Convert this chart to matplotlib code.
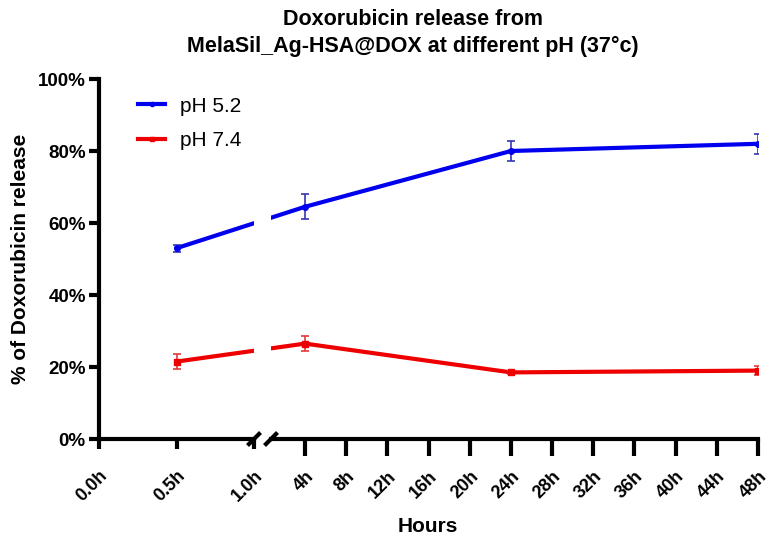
import matplotlib
matplotlib.use("Agg")
import matplotlib.pyplot as plt
from matplotlib.lines import Line2D

# ---- data ----
hours = [0.5, 4, 24, 48]
ph52 = [53.0, 64.5, 80.0, 82.0]
ph52_err = [1.0, 3.5, 2.8, 2.7]
ph74 = [21.5, 26.5, 18.5, 19.0]
ph74_err = [2.0, 2.0, 0.5, 1.2]
seg1_ticks = [0.0, 0.5, 1.0]
seg1_labels = ["0.0h", "0.5h", "1.0h"]
seg2_ticks = list(range(4, 49, 4))
seg2_labels = [f"{t}h" for t in seg2_ticks]
y_ticks = [0, 20, 40, 60, 80, 100]
y_labels = [f"{t}%" for t in y_ticks]

plt.rcParams['font.family'] = ['Liberation Sans', 'DejaVu Sans']

W, H = 771, 540
fig = plt.figure(figsize=(W / 100, H / 100), dpi=100)

def rect(x0, x1, ytop, ybot):
    return [x0 / W, 1 - ybot / H, (x1 - x0) / W, (ybot - ytop) / H]

ax1 = fig.add_axes(rect(99, 254, 79, 439))
ax2 = fig.add_axes(rect(271, 758, 79, 439))
ax1.set_xlim(0, 1.0)
ax2.set_xlim(0.7, 48)
for a in (ax1, ax2):
    a.set_ylim(0, 100)
    a.patch.set_alpha(0)
    for s in ("top", "right"):
        a.spines[s].set_visible(False)
    a.spines["bottom"].set_linewidth(3)
ax1.spines["left"].set_linewidth(3)
ax2.spines["left"].set_visible(False)
ax2.tick_params(axis="y", left=False, labelleft=False)

ax1.set_yticks(y_ticks)
ax1.set_yticklabels(y_labels, fontsize=13.5, fontweight="bold")
ax1.tick_params(axis="y", width=3, length=7.5, pad=2)
ax1.set_xticks(seg1_ticks)
ax1.set_xticklabels(seg1_labels, fontsize=13, fontweight="bold",
                    rotation=45, ha="right", rotation_mode="anchor")
ax1.tick_params(axis="x", width=3, length=7.5, pad=13)
ax2.set_xticks(seg2_ticks)
ax2.set_xticklabels(seg2_labels, fontsize=13, fontweight="bold",
                    rotation=45, ha="right", rotation_mode="anchor")
ax2.tick_params(axis="x", width=3, length=12, pad=8.5)


def conv(h, src, dst):
    d = src.transData.transform((h, 0))
    return dst.transData.inverted().transform(d)[0]

series = [
    (ph52, ph52_err, "#0000ee", "#3535b5", "o", "pH 5.2"),
    (ph74, ph74_err, "#ee0000", "#e03a3a", "s", "pH 7.4"),
]
handles = []
for vals, errs, col, ecol, mk, lab in series:
    x1 = [h if h <= 1 else conv(h, ax2, ax1) for h in hours]
    ax1.plot(x1, vals, color=col, lw=3, clip_on=True, zorder=2)
    x2 = [h if h >= 4 else conv(h, ax1, ax2) for h in hours]
    ax2.plot(x2, vals, color=col, lw=3, clip_on=True, zorder=2)
    h1 = [i for i, h in enumerate(hours) if h <= 1]
    h2 = [i for i, h in enumerate(hours) if h >= 4]
    ax1.errorbar([hours[i] for i in h1], [vals[i] for i in h1],
                 yerr=[errs[i] for i in h1], fmt=mk, color=col, ms=4,
                 ecolor=ecol, elinewidth=1.2, capsize=3, capthick=1.2,
                 zorder=3, linestyle="none")
    ax2.errorbar([hours[i] for i in h2], [vals[i] for i in h2],
                 yerr=[errs[i] for i in h2], fmt=mk, color=col, ms=4,
                 ecolor=ecol, elinewidth=1.2, capsize=3, capthick=1.2,
                 zorder=3, linestyle="none")
    handles.append(Line2D([], [], color=col, lw=3, marker=mk, ms=3))

# break marks (about 13 px wide and tall)
dx1, dx2, dy = 6.5 / 155, 6.5 / 487, 6.5 / 360
ax1.plot([1 - dx1, 1 + dx1], [-dy, dy], transform=ax1.transAxes,
         color="black", lw=3, clip_on=False, solid_capstyle="butt")
ax2.plot([-dx2, dx2], [-dy, dy], transform=ax2.transAxes,
         color="black", lw=3, clip_on=False, solid_capstyle="butt")

ax1.legend(handles=handles, labels=["pH 5.2", "pH 7.4"],
           loc="upper left", bbox_to_anchor=(0.253, 0.951), frameon=False,
           fontsize=15, handlelength=1.3, labelspacing=0.74,
           handletextpad=0.7, borderpad=0, borderaxespad=0)

ax1.set_ylabel("% of Doxorubicin release", fontsize=15, fontweight="bold",
               labelpad=6)
fig.text(428 / W, 1 - 526 / H, "Hours", fontsize=15, fontweight="bold",
         ha="center", va="center")
fig.text(413 / W, 1 - 33 / H,
         "Doxorubicin release from\nMelaSil_Ag-HSA@DOX at different pH (37°c)",
         fontsize=15.5, fontweight="bold", ha="center", va="center",
         linespacing=1.4)

fig.savefig("out.png", dpi=100)
